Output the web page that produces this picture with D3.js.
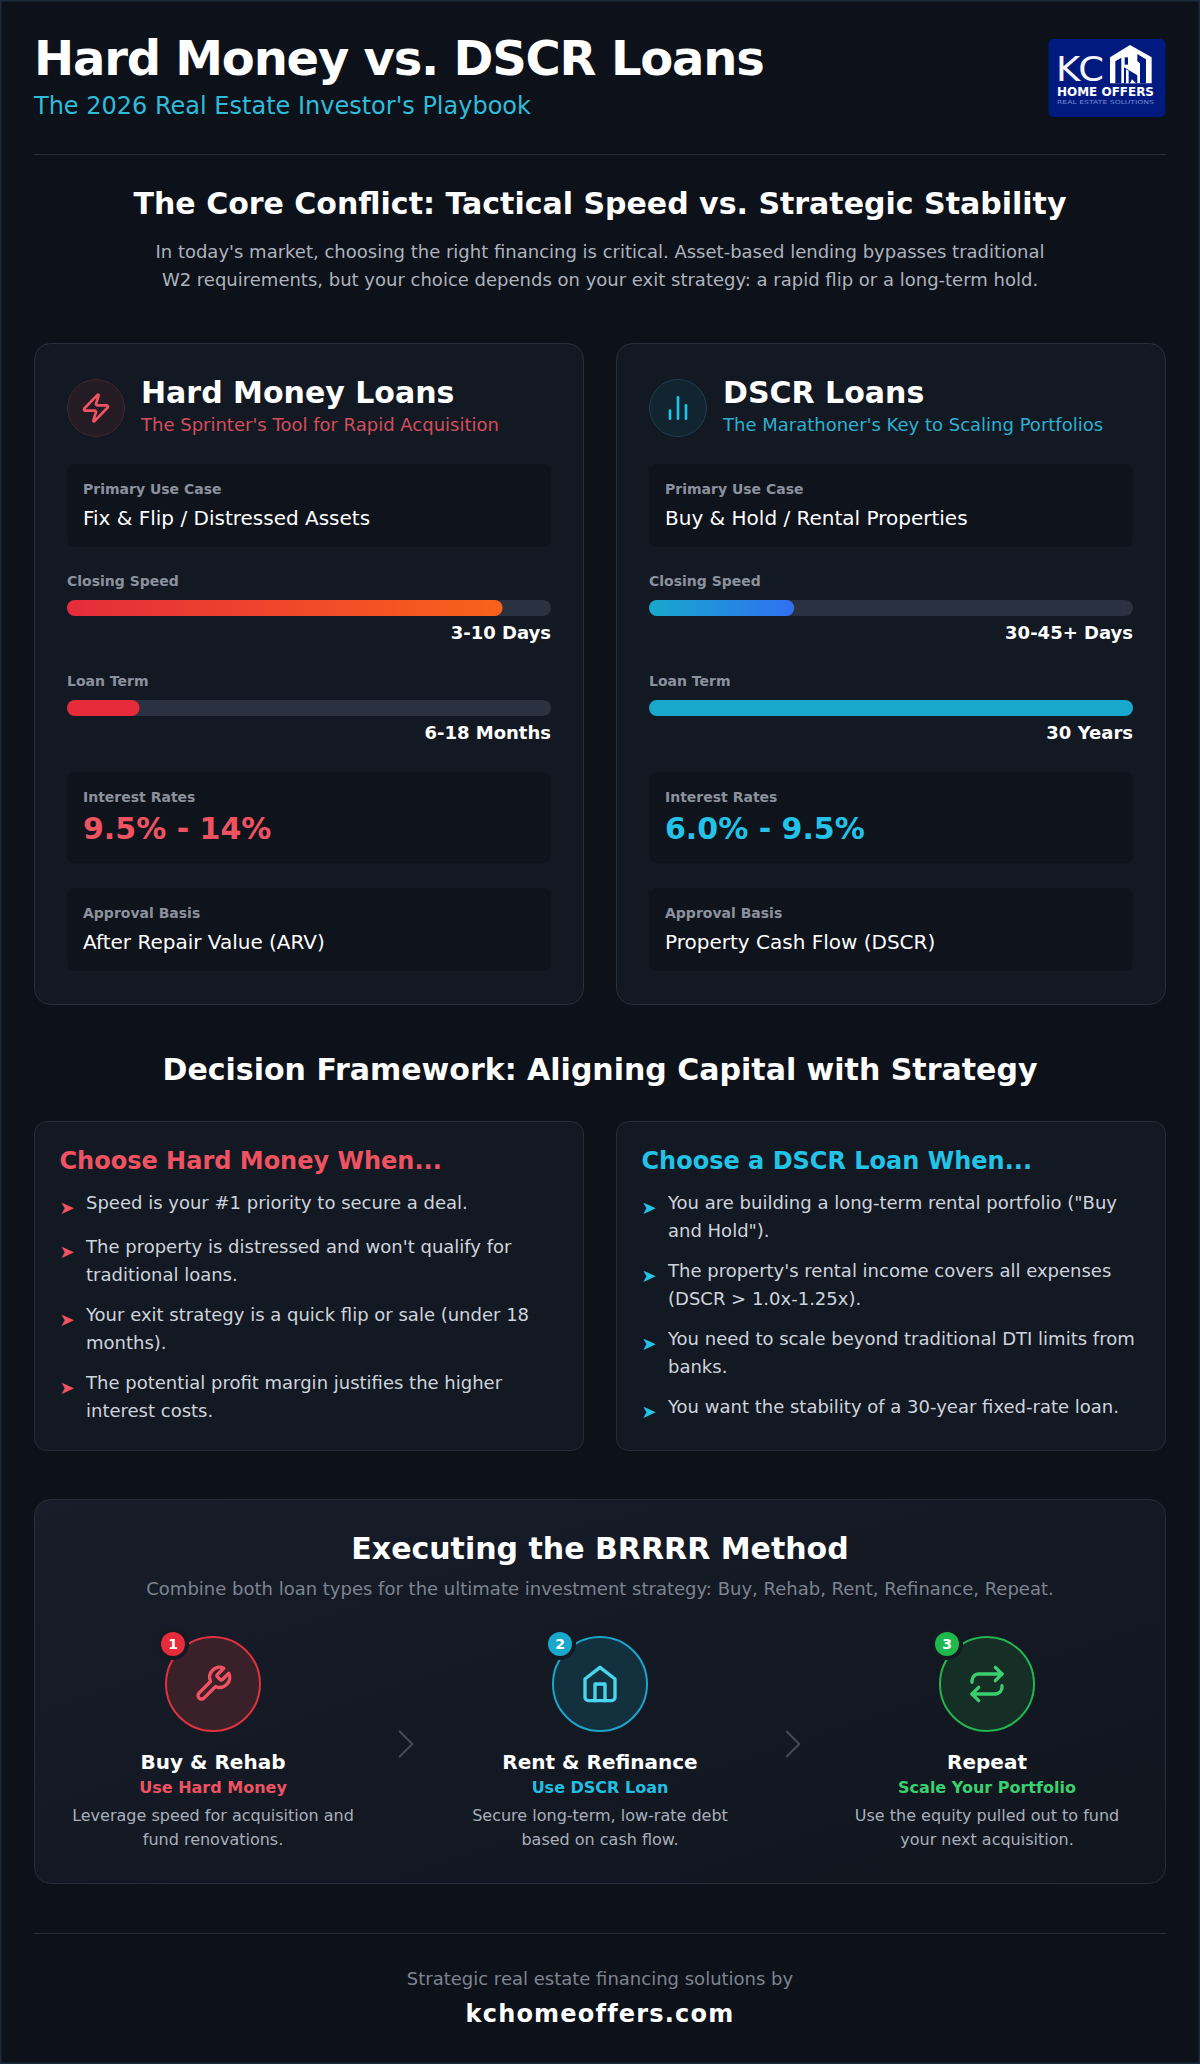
<!DOCTYPE html>
<html>
  <head>
    <meta charset="utf-8">
    <title>Hard Money vs. DSCR Loans</title>
    <script src="https://d3js.org/d3.v7.min.js" charset="utf-8"></script>
    <style>
      html, body { margin: 0; padding: 0; background: #0d1119; }
      svg { display: block; }
      text { font-family: "DejaVu Sans", sans-serif; }
    </style>
  </head>
  <body>
    <script>
      // loan data
      var loanNames = ["Hard Money Loans", "DSCR Loans"];
      var loanTaglines = ["The Sprinter's Tool for Rapid Acquisition", "The Marathoner's Key to Scaling Portfolios"];
      var useCases = ["Fix & Flip / Distressed Assets", "Buy & Hold / Rental Properties"];
      var closingPct = [90, 30];
      var closingLabels = ["3-10 Days", "30-45+ Days"];
      var termPct = [15, 100];
      var termLabels = ["6-18 Months", "30 Years"];
      var rates = ["9.5% - 14%", "6.0% - 9.5%"];
      var approvalBasis = ["After Repair Value (ARV)", "Property Cash Flow (DSCR)"];

      var chooseTitles = ["Choose Hard Money When...", "Choose a DSCR Loan When..."];
      var hardBullets = [
        ["Speed is your #1 priority to secure a deal."],
        ["The property is distressed and won't qualify for", "traditional loans."],
        ["Your exit strategy is a quick flip or sale (under 18", "months)."],
        ["The potential profit margin justifies the higher", "interest costs."]
      ];
      var dscrBullets = [
        ["You are building a long-term rental portfolio (\"Buy", "and Hold\")."],
        ["The property's rental income covers all expenses", "(DSCR > 1.0x-1.25x)."],
        ["You need to scale beyond traditional DTI limits from", "banks."],
        ["You want the stability of a 30-year fixed-rate loan."]
      ];

      var stepTitles = ["Buy & Rehab", "Rent & Refinance", "Repeat"];
      var stepSubs = ["Use Hard Money", "Use DSCR Loan", "Scale Your Portfolio"];
      var stepDescs = [
        ["Leverage speed for acquisition and", "fund renovations."],
        ["Secure long-term, low-rate debt", "based on cash flow."],
        ["Use the equity pulled out to fund", "your next acquisition."]
      ];

      var width = 1200;
      var height = 2064;
      var red = "#ef5361";
      var cyan = "#22c3e6";
      var green = "#3bd06e";

      var svg = d3.select("body").append("svg")
        .attr("width", width)
        .attr("height", height);

      var defs = svg.append("defs");

      function gradient(id, stops, x2, y2) {
        var g = defs.append("linearGradient").attr("id", id)
          .attr("x1", 0).attr("y1", 0).attr("x2", x2).attr("y2", y2);
        stops.forEach(function(c, i) {
          g.append("stop").attr("offset", i / (stops.length - 1)).attr("stop-color", c);
        });
      }
      gradient("barHard", ["#e52c3b", "#f9621a"], 1, 0);
      gradient("barDscr", ["#17a8cc", "#3070f0"], 1, 0);
      gradient("brrrrBg", ["#171d29", "#10151e"], 1, 1);

      function label(g, x, y, str, size, fill, weight, anchor) {
        return g.append("text")
          .attr("x", x).attr("y", y)
          .attr("font-size", size)
          .attr("font-weight", weight || "normal")
          .attr("text-anchor", anchor || "start")
          .attr("fill", fill)
          .text(str);
      }

      function panel(g, x, y, w, h, r, fill, stroke) {
        return g.append("rect")
          .attr("x", x).attr("y", y).attr("width", w).attr("height", h)
          .attr("rx", r).attr("ry", r)
          .attr("fill", fill)
          .attr("stroke", stroke || "none");
      }

      // page
      svg.append("rect").attr("width", width).attr("height", height).attr("fill", "#0d1119");
      svg.append("rect").attr("x", 0.75).attr("y", 0.75).attr("width", width - 1.5).attr("height", height - 1.5)
        .attr("fill", "none").attr("stroke", "#1f2a3d").attr("stroke-width", 1.5);

      // header
      label(svg, 34, 75, "Hard Money vs. DSCR Loans", 48, "#ffffff", "bold").attr("letter-spacing", -1.2);
      label(svg, 34, 114, "The 2026 Real Estate Investor's Playbook", 24, "#2fbcd9");
      svg.append("line").attr("x1", 34).attr("x2", 1166).attr("y1", 154.5).attr("y2", 154.5).attr("stroke", "#272e3b");

      // logo
      var logo = svg.append("g");
      panel(logo, 1048.5, 39, 117, 78, 5, "#011a80");
      label(logo, 1056, 81, "KC", 33, "#f4f6fb").attr("textLength", 48).attr("lengthAdjust", "spacingAndGlyphs");
      label(logo, 1057, 96, "HOME OFFERS", 13, "#ffffff", "bold").attr("textLength", 97).attr("lengthAdjust", "spacingAndGlyphs");
      label(logo, 1057, 104, "REAL ESTATE SOLUTIONS", 5.4, "#7388cf").attr("textLength", 97).attr("lengthAdjust", "spacingAndGlyphs");
      var house = logo.append("g").attr("transform", "translate(1050,40) scale(0.3333)");
      house.append("path").attr("fill", "#ffffff")
        .attr("d", "M180,52 L240,15 L305,52 L305,130 L180,130 Z");
      house.append("path").attr("fill", "#011a80")
        .attr("d", "M196,64 L214,53 L214,130 L196,130 Z");
      house.append("path").attr("fill", "#011a80")
        .attr("d", "M262,42 L288,58 L288,130 L270,130 L270,70 L262,64 Z");
      house.append("path").attr("fill", "#011a80")
        .attr("d", "M222,82 L262,106 L262,130 L222,130 Z");
      house.append("path").attr("fill", "#011a80")
        .attr("d", "M224,52 L234,52 L234,74 L224,74 Z");
      house.append("path").attr("fill", "#ffffff")
        .attr("d", "M228,88 L236,92 L236,130 L228,130 Z M246,118 L258,130 L240,130 Z");

      // intro
      label(svg, 600, 214, "The Core Conflict: Tactical Speed vs. Strategic Stability", 30, "#ffffff", "bold", "middle");
      label(svg, 600, 258, "In today's market, choosing the right financing is critical. Asset-based lending bypasses traditional", 18, "#aeb3bd", "normal", "middle");
      label(svg, 600, 286, "W2 requirements, but your choice depends on your exit strategy: a rapid flip or a long-term hold.", 18, "#aeb3bd", "normal", "middle");

      // loan cards
      var cardX = [34.5, 616.5];
      var cardW = 549;
      var accents = [red, cyan];
      var tagColors = ["#d44e5c", "#2db0cf"];
      var closingFills = ["url(#barHard)", "url(#barDscr)"];
      var termFills = ["#e62b3a", "#17a8cc"];
      var iconFills = ["#251b24", "#12242f"];
      var iconStrokes = ["#47262e", "#1d3f4f"];
      var loanIcons = [
        ["M4 14a1 1 0 0 1-.78-1.63l9.9-10.2a.5.5 0 0 1 .86.46l-1.92 6.02A1 1 0 0 0 13 10h7a1 1 0 0 1 .78 1.63l-9.9 10.2a.5.5 0 0 1-.86-.46l1.92-6.02A1 1 0 0 0 11 14z"],
        ["M18 20V10", "M12 20V4", "M6 20v-6"]
      ];

      function drawIcon(g, paths, cx, cy, size, color, sw) {
        var s = size / 24;
        var ic = g.append("g")
          .attr("transform", "translate(" + (cx - size / 2) + "," + (cy - size / 2) + ") scale(" + s + ")")
          .attr("fill", "none")
          .attr("stroke", color)
          .attr("stroke-width", sw || 2)
          .attr("stroke-linecap", "round")
          .attr("stroke-linejoin", "round");
        paths.forEach(function(p) { ic.append("path").attr("d", p); });
      }

      function drawBar(g, x, y, pct, fill, w) {
        var xScale = d3.scaleLinear().domain([0, 100]).range([0, w]);
        panel(g, x, y, xScale(100), 16, 8, "#2a3140");
        panel(g, x, y, xScale(pct), 16, 8, fill);
      }

      loanNames.forEach(function(name, i) {
        var x0 = cardX[i];
        var g = svg.append("g");
        var inX = x0 + 32.5;
        var inW = 484;
        panel(g, x0, 343.5, cardW, 661, 16, "#131923", "#29303d");

        g.append("circle").attr("cx", inX + 29).attr("cy", 408).attr("r", 28.5)
          .attr("fill", iconFills[i]).attr("stroke", iconStrokes[i]);
        drawIcon(g, loanIcons[i], inX + 29, 408, 32, accents[i]);
        label(g, inX + 74, 403, name, 30, "#ffffff", "bold");
        label(g, inX + 74, 431, loanTaglines[i], 18, tagColors[i]);

        panel(g, inX, 464, inW, 83, 8, "#0f131c");
        label(g, inX + 16, 494, "Primary Use Case", 14, "#8b919d", "bold");
        label(g, inX + 16, 525, useCases[i], 20, "#ffffff");

        label(g, inX, 586, "Closing Speed", 14, "#8b919d", "bold");
        drawBar(g, inX, 600, closingPct[i], closingFills[i], inW);
        label(g, inX + inW, 639, closingLabels[i], 18, "#ffffff", "bold", "end");

        label(g, inX, 686, "Loan Term", 14, "#8b919d", "bold");
        drawBar(g, inX, 700, termPct[i], termFills[i], inW);
        label(g, inX + inW, 739, termLabels[i], 18, "#ffffff", "bold", "end");

        panel(g, inX, 772, inW, 91, 8, "#0f131c");
        label(g, inX + 16, 802, "Interest Rates", 14, "#8b919d", "bold");
        label(g, inX + 16, 839, rates[i], 30, accents[i], "bold");

        panel(g, inX, 888, inW, 83, 8, "#0f131c");
        label(g, inX + 16, 918, "Approval Basis", 14, "#8b919d", "bold");
        label(g, inX + 16, 949, approvalBasis[i], 20, "#ffffff");
      });

      // decision framework
      label(svg, 600, 1080, "Decision Framework: Aligning Capital with Strategy", 30, "#ffffff", "bold", "middle");

      var bulletSets = [hardBullets, dscrBullets];
      var bulletTops = [[1209, 1253, 1321, 1389], [1209, 1277, 1345, 1413]];
      chooseTitles.forEach(function(title, i) {
        var x0 = cardX[i];
        var g = svg.append("g");
        panel(g, x0, 1121.5, cardW, 329, 12, "#131923", "#252c38");
        label(g, x0 + 25, 1169, title, 24, accents[i], "bold");
        bulletSets[i].forEach(function(lines, j) {
          var y = bulletTops[i][j];
          label(g, x0 + 25, y + 5, "\u27A4", 18, accents[i]);
          lines.forEach(function(line, k) {
            label(g, x0 + 51.5, y + k * 28, line, 18, "#cfd4dc");
          });
        });
      });

      // BRRRR panel
      var brrrr = svg.append("g");
      panel(brrrr, 34.5, 1499.5, 1131, 384, 16, "url(#brrrrBg)", "#272e3b");
      label(brrrr, 600, 1559, "Executing the BRRRR Method", 30, "#ffffff", "bold", "middle");
      label(brrrr, 600, 1595, "Combine both loan types for the ultimate investment strategy: Buy, Rehab, Rent, Refinance, Repeat.", 18, "#7d8491", "normal", "middle");

      var stepX = [213, 600, 987];
      var stepCy = 1684;
      var stepFills = ["#3a2028", "#13303f", "#152f27"];
      var stepStrokes = ["#e0323f", "#1ba6c9", "#22b550"];
      var stepIconColors = [red, "#48d6ee", green];
      var badgeFills = ["#e62b3a", "#17a8cc", "#1fb84f"];
      var stepSubColors = [red, "#22bfe0", green];
      var stepIcons = [
        ["M14.7 6.3a1 1 0 0 0 0 1.4l1.6 1.6a1 1 0 0 0 1.4 0l3.77-3.77a6 6 0 0 1-7.94 7.94l-6.91 6.91a2.12 2.12 0 0 1-3-3l6.91-6.91a6 6 0 0 1 7.94-7.94l-3.76 3.76z"],
        ["M3 9l9-7 9 7v11a2 2 0 0 1-2 2H5a2 2 0 0 1-2-2z", "M9 22V12h6v10"],
        ["m17 2 4 4-4 4", "M3 11v-1a4 4 0 0 1 4-4h14", "m7 22-4-4 4-4", "M21 13v1a4 4 0 0 1-4 4H3"]
      ];

      stepTitles.forEach(function(title, i) {
        var cx = stepX[i];
        var g = brrrr.append("g");
        g.append("circle").attr("cx", cx).attr("cy", stepCy).attr("r", 47)
          .attr("fill", stepFills[i]).attr("stroke", stepStrokes[i]).attr("stroke-width", 2);
        drawIcon(g, stepIcons[i], cx, stepCy, 40, stepIconColors[i]);
        g.append("circle").attr("cx", cx - 40).attr("cy", stepCy - 40).attr("r", 16).attr("fill", "#141922");
        g.append("circle").attr("cx", cx - 40).attr("cy", stepCy - 40).attr("r", 12).attr("fill", badgeFills[i]);
        label(g, cx - 40, stepCy - 35, i + 1, 14, "#ffffff", "bold", "middle");
        label(g, cx, 1769, title, 20, "#ffffff", "bold", "middle");
        label(g, cx, 1793, stepSubs[i], 16, stepSubColors[i], "bold", "middle");
        stepDescs[i].forEach(function(line, k) {
          label(g, cx, 1821 + k * 24, line, 16, "#a9afba", "normal", "middle");
        });
      });

      [406.5, 793.5].forEach(function(x) {
        drawIcon(brrrr, ["m9 18 6-6-6-6"], x - 0.5, 1744, 50, "#454b58", 0.9);
      });

      // footer
      svg.append("line").attr("x1", 34).attr("x2", 1166).attr("y1", 1933.5).attr("y2", 1933.5).attr("stroke", "#272e3b");
      label(svg, 600, 1985, "Strategic real estate financing solutions by", 18, "#7d8491", "normal", "middle");
      label(svg, 600, 2022, "kchomeoffers.com", 24, "#ffffff", "bold", "middle").attr("letter-spacing", 1.2);
    </script>
  </body>
</html>
